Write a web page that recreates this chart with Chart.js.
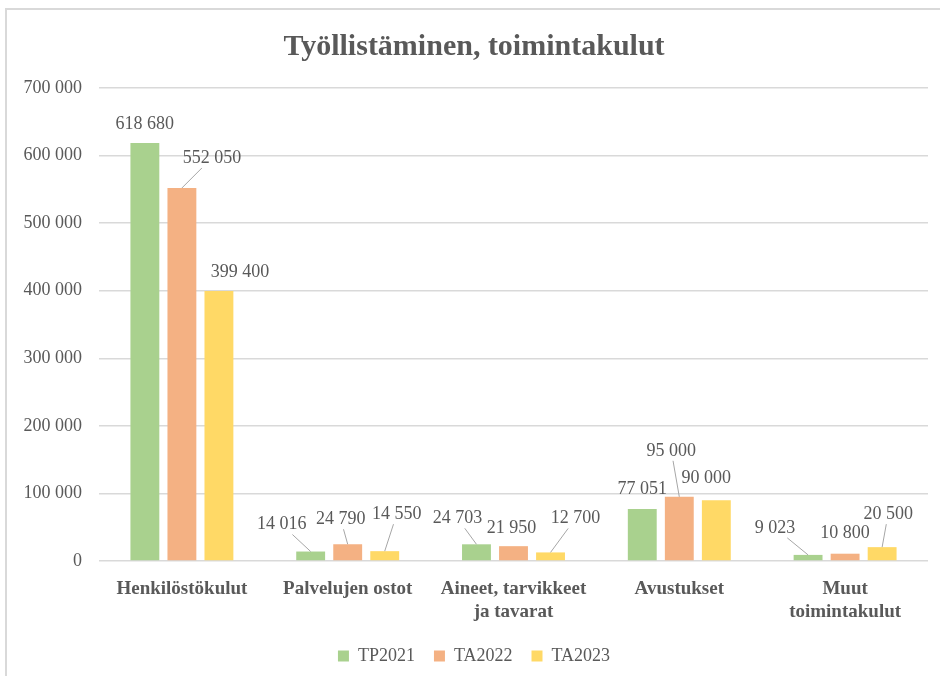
<!DOCTYPE html>
<html>
<head>
<meta charset="utf-8">
<script src="https://cdn.jsdelivr.net/npm/chart.js@4"></script>
<style>
  body { margin: 0; background: #fff; overflow: hidden; }
  .frame { position: absolute; left: 5px; top: 8px; width: 960px; height: 700px; border: 2px solid #d9d9d9; }
  .box { position: absolute; left: 0; top: 0; width: 940px; height: 676px; }
</style>
</head>
<body>
<div class="frame"></div>
<div class="box"><canvas id="chart"></canvas></div>
<script>
const categories = [
  ["Henkilöstökulut"],
  ["Palvelujen ostot"],
  ["Aineet, tarvikkeet", "ja tavarat"],
  ["Avustukset"],
  ["Muut", "toimintakulut"],
];
const tp2021 = [618680, 14016, 24703, 77051, 9023];
const ta2022 = [552050, 24790, 21950, 95000, 10800];
const ta2023 = [399400, 14550, 12700, 90000, 20500];

// label offsets from the top centre of each bar (px)
const labelOffsets = [
  [[0, -19], [-29, -27], [-19, -26], [0, -20], [-33, -27]],
  [[30, -30], [-7, -25], [-2, -18], [-8, -46], [0, -20]],
  [[21, -19], [12, -37], [25, -34], [-10, -22], [6, -33]],
];

const serif = "'Liberation Serif', 'Times New Roman', serif";
const grey = "#595959";
const fmt = (v) => v.toString().replace(/\B(?=(\d{3})+(?!\d))/g, " ");

const barLabels = {
  id: "barLabels",
  afterDatasetsDraw(chart) {
    const ctx = chart.ctx;
    ctx.save();
    ctx.font = "18px " + serif;
    ctx.textAlign = "center";
    ctx.textBaseline = "middle";
    chart.data.datasets.forEach((ds, d) => {
      chart.getDatasetMeta(d).data.forEach((bar, i) => {
        const [dx, dy] = labelOffsets[d][i];
        const lx = bar.x + dx, ly = bar.y + dy;
        const txt = fmt(ds.data[i]);
        if (dy <= -24) {
          const w = ctx.measureText(txt).width / 2 + 2, h = 10;
          const vx = bar.x - lx, vy = bar.y - ly;
          const t = Math.min(Math.abs(w / (vx || 1e-6)), Math.abs(h / (vy || 1e-6)));
          ctx.strokeStyle = "#a6a6a6";
          ctx.lineWidth = 1;
          ctx.beginPath();
          ctx.moveTo(bar.x, bar.y);
          ctx.lineTo(lx + vx * t, ly + vy * t);
          ctx.stroke();
        }
        ctx.fillStyle = grey;
        ctx.fillText(txt, lx, ly);
      });
    });
    ctx.restore();
  },
};

new Chart(document.getElementById("chart"), {
  type: "bar",
  data: {
    labels: categories,
    datasets: [
      { label: "TP2021", data: tp2021, backgroundColor: "#a9d18e" },
      { label: "TA2022", data: ta2022, backgroundColor: "#f4b183" },
      { label: "TA2023", data: ta2023, backgroundColor: "#ffd966" },
    ],
  },
  options: {
    responsive: true,
    maintainAspectRatio: false,
    animation: false,
    categoryPercentage: 0.67,
    barPercentage: 0.78,
    layout: { padding: { left: 20, right: 12, top: 0, bottom: 1 } },
    plugins: {
      title: {
        display: true,
        text: "Työllistäminen, toimintakulut",
        color: grey,
        font: { family: serif, size: 30, weight: "bold" },
        padding: { top: 29, bottom: 23 },
      },
      legend: {
        position: "bottom",
        labels: {
          boxWidth: 11,
          boxHeight: 11,
          padding: 19,
          color: grey,
          font: { family: serif, size: 18 },
        },
      },
      tooltip: { enabled: false },
    },
    scales: {
      x: {
        grid: { display: false },
        border: { display: false },
        ticks: {
          color: grey,
          padding: 9,
          maxRotation: 0,
          autoSkip: false,
          font: { family: serif, size: 19, weight: "bold", lineHeight: 1.2 },
        },
        afterFit: (s) => { s.height = 67; },
      },
      y: {
        min: 0,
        max: 700000,
        ticks: {
          stepSize: 100000,
          color: grey,
          padding: 17,
          font: { family: serif, size: 18 },
          callback: (v) => fmt(v),
        },
        grid: { color: "#d9d9d9", lineWidth: 1.5, drawTicks: false },
        border: { display: false },
        afterFit: (s) => { s.width = 79; },
      },
    },
  },
  plugins: [barLabels],
});
</script>
</body>
</html>
